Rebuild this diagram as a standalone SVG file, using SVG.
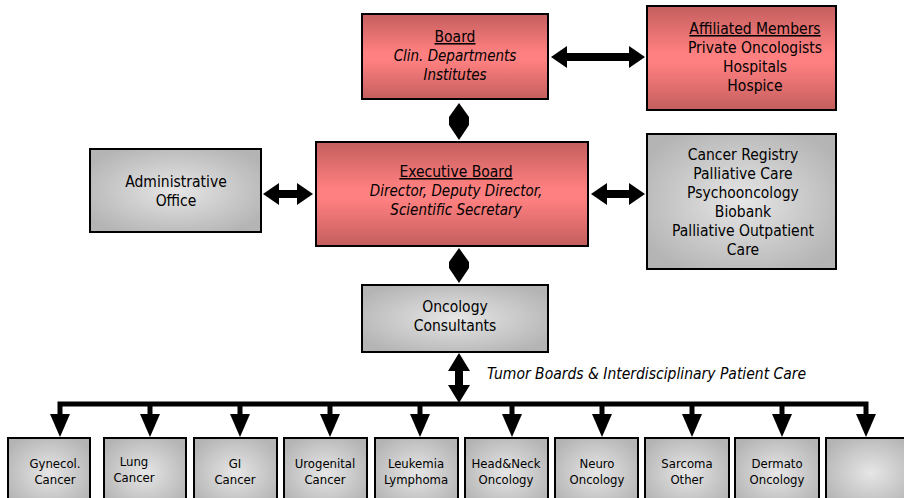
<svg xmlns="http://www.w3.org/2000/svg" width="904" height="498" viewBox="0 0 904 498">
  <defs>
    <linearGradient id="redFill" x1="0" y1="0" x2="0" y2="1">
      <stop offset="0" stop-color="#c45e5e"/>
      <stop offset="0.45" stop-color="#ff8080"/>
      <stop offset="0.55" stop-color="#ff8080"/>
      <stop offset="1" stop-color="#c45e5e"/>
    </linearGradient>
    <radialGradient id="grayFill" cx="0.5" cy="0.5" r="0.6">
      <stop offset="0" stop-color="#e6e6e6"/>
      <stop offset="1" stop-color="#b4b4b4"/>
    </radialGradient>
    <style>
      .red { fill: url(#redFill); stroke: #000; stroke-width: 2; }
      .gray { fill: url(#grayFill); stroke: #000; stroke-width: 2; }
      text { font-family: "DejaVu Sans Condensed", "DejaVu Sans", "Liberation Sans", sans-serif; font-size: 15.5px; fill: #000; text-anchor: middle; }
      .it { font-style: italic; font-size: 15px; }
      .ul { text-decoration: underline; }
      .sm { font-size: 13px; }
      .arrow { fill: #000; }
      .bus { fill: none; stroke: #000; stroke-width: 5; }
    </style>
  </defs>

  <!-- connectors -->
  <g id="connectors">
    <polygon class="arrow" points="551,57 567,46 567,53 629,53 629,46 645,57 629,68 629,61 567,61 567,68"/>
    <polygon class="arrow" points="263,194 279,183 279,190 297,190 297,183 313,194 297,205 297,198 279,198 279,205"/>
    <polygon class="arrow" points="591,194 607,183 607,190 629,190 629,183 645,194 629,205 629,198 607,198 607,205"/>
    <!-- short vertical links drawn as diamonds -->
    <polygon class="arrow" points="459,103 469,117 469,125 459,140 449,125 449,117"/>
    <polygon class="arrow" points="459,248 469,262 469,268 459,283 449,268 449,262"/>
    <polygon class="arrow" points="459,353 470,371 463,371 463,385 470,385 459,403 448,385 455,385 455,371 448,371"/>
    <path class="bus" d="M60,416 V404 H866 V416"/>
    <g stroke="#000" stroke-width="5">
      <line x1="150" y1="404" x2="150" y2="416"/>
      <line x1="240" y1="404" x2="240" y2="416"/>
      <line x1="330" y1="404" x2="330" y2="416"/>
      <line x1="420" y1="404" x2="420" y2="416"/>
      <line x1="512" y1="404" x2="512" y2="416"/>
      <line x1="602" y1="404" x2="602" y2="416"/>
      <line x1="692" y1="404" x2="692" y2="416"/>
      <line x1="782" y1="404" x2="782" y2="416"/>
    </g>
    <polygon class="arrow" points="50,414 70,414 60,437"/>
    <polygon class="arrow" points="140,414 160,414 150,437"/>
    <polygon class="arrow" points="230,414 250,414 240,437"/>
    <polygon class="arrow" points="320,414 340,414 330,437"/>
    <polygon class="arrow" points="410,414 430,414 420,437"/>
    <polygon class="arrow" points="502,414 522,414 512,437"/>
    <polygon class="arrow" points="592,414 612,414 602,437"/>
    <polygon class="arrow" points="682,414 702,414 692,437"/>
    <polygon class="arrow" points="772,414 792,414 782,437"/>
    <polygon class="arrow" points="856,414 876,414 866,437"/>
    <text class="it" x="487" y="379" style="text-anchor:start;font-size:15.5px">Tumor Boards &amp; Interdisciplinary Patient Care</text>
  </g>

  <g id="board">
    <rect class="red" x="362" y="14" width="186" height="85"/>
    <text x="455" y="42" class="ul">Board</text>
    <text x="455" y="61" class="it">Clin. Departments</text>
    <text x="455" y="80" class="it">Institutes</text>
  </g>

  <g id="affiliated">
    <rect class="red" x="647" y="6" width="189" height="104"/>
    <text x="755" y="34" class="ul">Affiliated Members</text>
    <text x="755" y="53">Private Oncologists</text>
    <text x="755" y="72">Hospitals</text>
    <text x="755" y="91">Hospice</text>
  </g>

  <g id="executive">
    <rect class="red" x="316" y="142" width="272" height="104"/>
    <text x="456" y="177" class="ul">Executive Board</text>
    <text x="456" y="196" class="it">Director, Deputy Director,</text>
    <text x="456" y="215" class="it">Scientific Secretary</text>
  </g>

  <g id="admin">
    <rect class="gray" x="90" y="149" width="171" height="83"/>
    <text x="176" y="187">Administrative</text>
    <text x="176" y="206">Office</text>
  </g>

  <g id="services">
    <rect class="gray" x="647" y="134" width="189" height="135"/>
    <text x="743" y="160">Cancer Registry</text>
    <text x="743" y="179">Palliative Care</text>
    <text x="743" y="198">Psychooncology</text>
    <text x="743" y="217">Biobank</text>
    <text x="743" y="236">Palliative Outpatient</text>
    <text x="743" y="255">Care</text>
  </g>

  <g id="consultants">
    <rect class="gray" x="362" y="285" width="186" height="67"/>
    <text x="455" y="312">Oncology</text>
    <text x="455" y="331">Consultants</text>
  </g>

  <g id="gynecol">
    <rect class="gray" x="8" y="438" width="82" height="70"/>
    <text class="sm" x="55" y="468">Gynecol.</text>
    <text class="sm" x="55" y="484">Cancer</text>
  </g>
  <g id="lung">
    <rect class="gray" x="104" y="438" width="82" height="70"/>
    <text class="sm" x="134" y="466">Lung</text>
    <text class="sm" x="134" y="482">Cancer</text>
  </g>
  <g id="gi">
    <rect class="gray" x="194" y="438" width="83" height="70"/>
    <text class="sm" x="235" y="468">GI</text>
    <text class="sm" x="235" y="484">Cancer</text>
  </g>
  <g id="urogenital">
    <rect class="gray" x="284" y="438" width="83" height="70"/>
    <text class="sm" x="325" y="468">Urogenital</text>
    <text class="sm" x="325" y="484">Cancer</text>
  </g>
  <g id="leukemia">
    <rect class="gray" x="375" y="438" width="83" height="70"/>
    <text class="sm" x="416" y="468">Leukemia</text>
    <text class="sm" x="416" y="484">Lymphoma</text>
  </g>
  <g id="headneck">
    <rect class="gray" x="465" y="438" width="83" height="70"/>
    <text class="sm" x="506" y="468">Head&amp;Neck</text>
    <text class="sm" x="506" y="484">Oncology</text>
  </g>
  <g id="neuro">
    <rect class="gray" x="555" y="438" width="83" height="70"/>
    <text class="sm" x="597" y="468">Neuro</text>
    <text class="sm" x="597" y="484">Oncology</text>
  </g>
  <g id="sarcoma">
    <rect class="gray" x="645" y="438" width="84" height="70"/>
    <text class="sm" x="687" y="468">Sarcoma</text>
    <text class="sm" x="687" y="484">Other</text>
  </g>
  <g id="dermato">
    <rect class="gray" x="735" y="438" width="84" height="70"/>
    <text class="sm" x="777" y="468">Dermato</text>
    <text class="sm" x="777" y="484">Oncology</text>
  </g>
  <g id="blank">
    <rect class="gray" x="826" y="438" width="90" height="70"/>
  </g>
</svg>
